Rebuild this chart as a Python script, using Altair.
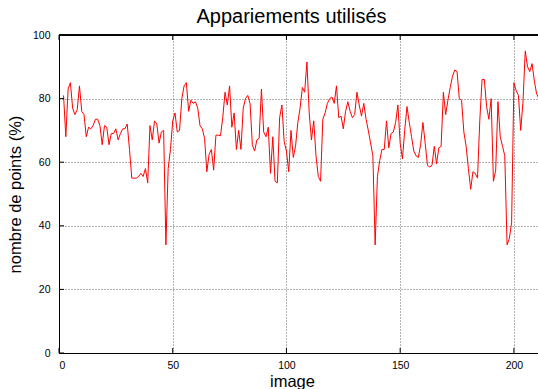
import altair as alt
import pandas as pd

image = list(range(2, 212))
points = [
    81, 68, 83, 85, 77, 75, 76.5, 84, 76, 75,
    68, 71, 70.5, 71.5, 73.5, 73.5, 71.5, 65.5, 71.5, 71,
    65.5, 69, 69, 70.5, 67, 69, 70.5, 70.5, 72, 64,
    55, 55, 55, 55.5, 56.5, 55.5, 58, 53.5, 71.5, 67,
    73, 72, 66, 69.5, 70, 34, 58, 64, 73, 75.5,
    69.5, 70, 80, 84, 85, 76, 79.5, 78.5, 79, 77,
    71.5, 70.5, 67.5, 57, 62.5, 64, 57.5, 68.5, 68.5, 68.3,
    74, 82, 78, 84, 71, 75.5, 64, 70, 64, 77,
    80, 81, 78.5, 65.5, 63.5, 67, 67.5, 83, 69.5, 68,
    71, 56.5, 68, 54, 53.5, 74, 78, 66.5, 63.5, 57,
    70, 61.5, 65, 72.5, 77, 83.5, 82, 91.5, 75.5, 67,
    73, 62, 55.5, 54, 73.5, 75.5, 78.5, 80, 80.5, 78.5,
    84, 74, 74.5, 70.5, 76, 79, 76, 74, 75, 82,
    78, 74.5, 78.5, 73.5, 70, 66, 62, 34, 55.5, 60.5,
    64, 64, 73, 64.5, 69, 69.5, 72.5, 78, 66, 61,
    70, 77.5, 72.5, 68, 63.5, 62, 61.5, 65.5, 72.5, 66,
    59, 58.5, 59, 65, 59.5, 64.5, 65, 82, 75, 79.5,
    83.5, 87, 89, 88.5, 80, 79.5, 69.5, 65, 58, 51.5,
    57, 56.5, 55, 73, 86, 86, 77.5, 73.5, 80, 54,
    57.5, 79, 68, 65, 62, 34, 36, 41, 85, 82.5,
    81, 70, 79, 95, 90, 88.5, 91, 85.5, 81.5, 80,
]
x_ticks = [0, 50, 100, 150, 200]
y_ticks = [0, 20, 40, 60, 80, 100]

FONT = "Liberation Sans"
W, H = 479, 318
XMAX = 210.6

df = pd.DataFrame({"image": image, "points": points})
xt = pd.DataFrame({"t": x_ticks})
yt = pd.DataFrame({"t": y_ticks})

xscale = alt.Scale(domain=[0, XMAX], nice=False, zero=False)
yscale = alt.Scale(domain=[0, 100], nice=False)

line = alt.Chart(df).mark_line(color="#ff0000", strokeWidth=1, clip=True).encode(
    x=alt.X("image:Q", scale=xscale, title="image",
            axis=alt.Axis(values=x_ticks, grid=True, gridDash=[1, 2], gridColor="#666",
                          gridOpacity=1, ticks=False, tickSize=0, labelPadding=7,
                          labelFontSize=10.5, labelFont=FONT, labelColor="#000",
                          domainColor="#000", domainWidth=1,
                          titleFont=FONT, titleFontSize=16.5, titleFontWeight="normal",
                          titleColor="#000", titlePadding=3, titleX=233)),
    y=alt.Y("points:Q", scale=yscale, title="nombre de points (%)",
            axis=alt.Axis(values=y_ticks, grid=True, gridDash=[1, 2], gridColor="#666",
                          gridOpacity=1, ticks=False, tickSize=0, labelPadding=9,
                          labelFontSize=10.5, labelFont=FONT, labelColor="#000",
                          domainColor="#000", domainWidth=1,
                          titleFont=FONT, titleFontSize=16.5, titleFontWeight="normal",
                          titleColor="#000", titlePadding=9)),
)

top_border = alt.Chart(xt).mark_rule(color="#000", strokeWidth=1).encode(
    x=alt.value(0), x2=alt.value(W), y=alt.value(0)
)

left_ticks = alt.Chart(yt).mark_rule(color="#000", strokeWidth=1).encode(
    y=alt.Y("t:Q", scale=yscale), x=alt.value(0), x2=alt.value(5)
)
bottom_ticks = alt.Chart(xt).mark_rule(color="#000", strokeWidth=1).encode(
    x=alt.X("t:Q", scale=xscale), y=alt.value(H), y2=alt.value(H - 5)
)
top_ticks = alt.Chart(xt).mark_rule(color="#000", strokeWidth=1).encode(
    x=alt.X("t:Q", scale=xscale), y=alt.value(0), y2=alt.value(5)
)

chart = alt.layer(line, left_ticks, bottom_ticks, top_ticks, top_border).properties(
    width=W, height=H,
    autosize=alt.AutoSizeParams(type="none"),
    padding={"left": 59, "top": 35, "right": 0, "bottom": 36},
    title=alt.TitleParams(text="Appariements utilisés", font=FONT, fontSize=20,
                          fontWeight="normal", color="#000", anchor="middle",
                          offset=3, dx=-7),
).configure_view(stroke=None).configure(background="#ffffff")

chart.save("out.html", embed_options={"renderer": "svg", "actions": False})
